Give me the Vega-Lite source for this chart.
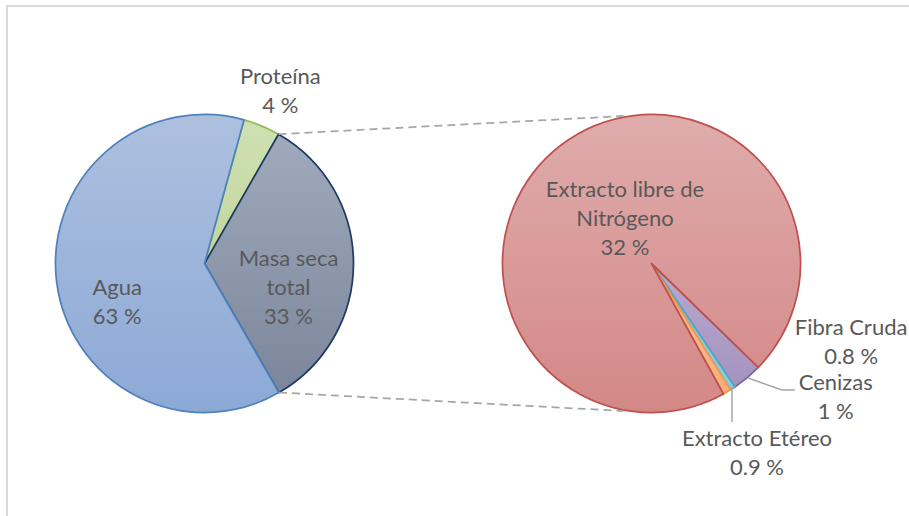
{
  "$schema": "https://vega.github.io/schema/vega-lite/v6.json",
  "width": 910,
  "height": 520,
  "autosize": {"type": "none"},
  "padding": {"left": 7, "top": 6, "right": 0, "bottom": 0},
  "background": "white",
  "config": {
    "view": {"stroke": "#d9d9d9", "strokeWidth": 2},
    "axis": {"disable": true},
    "text": {"font": "Lato", "fontSize": 22, "lineHeight": 29, "fill": "#595959", "align": "center", "baseline": "middle", "lineBreak": "\n"}
  },
  "datasets": {
    "principal": [
      {"categoria": "Proteína", "valor": 4.0, "etiqueta": "Proteína\n4 %", "orden": 1},
      {"categoria": "Masa seca total", "valor": 33.4, "etiqueta": "Masa seca\ntotal\n33 %", "orden": 2},
      {"categoria": "Agua", "valor": 62.6, "etiqueta": "Agua\n63 %", "orden": 3}
    ],
    "secundario": [
      {"categoria": "Fibra Cruda", "valor": 1.09, "etiqueta": "Fibra Cruda\n0.8 %", "orden": 1},
      {"categoria": "Cenizas", "valor": 0.19, "etiqueta": "Cenizas\n1 %", "orden": 2},
      {"categoria": "Extracto Etéreo", "valor": 0.29, "etiqueta": "Extracto Etéreo\n0.9 %", "orden": 3},
      {"categoria": "Extracto libre de Nitrógeno", "valor": 31.83, "etiqueta": "Extracto libre de\nNitrógeno\n32 %", "orden": 4}
    ]
  },
  "layer": [
    {
      "data": {"name": "principal"},
      "encoding": {
        "x": {"datum": 0, "type": "quantitative", "scale": {"domain": [-1.3255, 4.78188], "nice": false, "zero": false}, "axis": null},
        "y": {"datum": 0, "type": "quantitative", "scale": {"domain": [-1.76174, 1.72819], "nice": false, "zero": false}, "axis": null},
        "theta": {"field": "valor", "type": "quantitative", "stack": true, "scale": {"range": [0.26878, 6.55197]}},
        "order": {"field": "orden", "type": "quantitative"},
        "detail": {"field": "categoria", "type": "nominal"}
      },
      "layer": [
        {
          "mark": {"type": "arc", "radius": 149, "strokeWidth": 1.75, "strokeJoin": "round"},
          "encoding": {
            "fill": {
              "condition": [
                {"test": "datum.categoria === 'Agua'", "value": {"gradient": "linear", "x1": 0, "y1": 0, "x2": 0, "y2": 1, "stops": [{"offset": 0, "color": "#adc0df"}, {"offset": 1, "color": "#8ca9d6"}]}},
                {"test": "datum.categoria === 'Proteína'", "value": {"gradient": "linear", "x1": 0, "y1": 0, "x2": 0, "y2": 1, "stops": [{"offset": 0, "color": "#cfe0b3"}, {"offset": 1, "color": "#c3d69c"}]}}
              ],
              "value": {"gradient": "linear", "x1": 0, "y1": 0, "x2": 0, "y2": 1, "stops": [{"offset": 0, "color": "#a0aabc"}, {"offset": 1, "color": "#7b869c"}]}
            },
            "stroke": {
              "field": "categoria", "type": "nominal", "legend": null,
              "scale": {
                "domain": ["Agua", "Proteína", "Masa seca total", "Extracto libre de Nitrógeno", "Fibra Cruda", "Cenizas", "Extracto Etéreo"],
                "range": ["#4f81bd", "#9bbb59", "#1f3b63", "#c0504d", "#8064a2", "#4bacc6", "#f79646"]
              }
            }
          }
        },
        {
          "mark": {"type": "text", "radius": 187, "dx": 4, "dy": -14},
          "encoding": {"text": {"condition": {"test": "datum.categoria === 'Proteína'", "field": "etiqueta"}, "value": ""}}
        },
        {
          "mark": {"type": "text", "radius": 84, "dx": 0, "dy": -4},
          "encoding": {"text": {"condition": {"test": "datum.categoria === 'Masa seca total'", "field": "etiqueta"}, "value": ""}}
        },
        {
          "mark": {"type": "text", "radius": 88, "dx": 0, "dy": 13},
          "encoding": {"text": {"condition": {"test": "datum.categoria === 'Agua'", "field": "etiqueta"}, "value": ""}}
        }
      ]
    },
    {
      "data": {"name": "secundario"},
      "encoding": {
        "x": {"datum": 3, "type": "quantitative", "scale": {"domain": [-1.3255, 4.78188], "nice": false, "zero": false}, "axis": null},
        "y": {"datum": 0, "type": "quantitative", "scale": {"domain": [-1.76174, 1.72819], "nice": false, "zero": false}, "axis": null},
        "theta": {"field": "valor", "type": "quantitative", "stack": true, "scale": {"range": [2.34224, 8.62543]}},
        "order": {"field": "orden", "type": "quantitative"},
        "detail": {"field": "categoria", "type": "nominal"}
      },
      "layer": [
        {
          "mark": {"type": "arc", "radius": 149, "strokeWidth": 1.75, "strokeJoin": "round"},
          "encoding": {
            "fill": {
              "condition": [
                {"test": "datum.categoria === 'Fibra Cruda'", "value": {"gradient": "linear", "x1": 0, "y1": 0, "x2": 0, "y2": 1, "stops": [{"offset": 0, "color": "#b8aacf"}, {"offset": 1, "color": "#a593bf"}]}},
                {"test": "datum.categoria === 'Cenizas'", "value": {"gradient": "linear", "x1": 0, "y1": 0, "x2": 0, "y2": 1, "stops": [{"offset": 0, "color": "#a2d6e4"}, {"offset": 1, "color": "#88c9da"}]}},
                {"test": "datum.categoria === 'Extracto Etéreo'", "value": {"gradient": "linear", "x1": 0, "y1": 0, "x2": 0, "y2": 1, "stops": [{"offset": 0, "color": "#fcc49c"}, {"offset": 1, "color": "#f9ae7a"}]}}
              ],
              "value": {"gradient": "linear", "x1": 0, "y1": 0, "x2": 0, "y2": 1, "stops": [{"offset": 0, "color": "#dfacac"}, {"offset": 1, "color": "#d38886"}]}
            },
            "stroke": {
              "field": "categoria", "type": "nominal", "legend": null,
              "scale": {
                "domain": ["Agua", "Proteína", "Masa seca total", "Extracto libre de Nitrógeno", "Fibra Cruda", "Cenizas", "Extracto Etéreo"],
                "range": ["#4f81bd", "#9bbb59", "#1f3b63", "#c0504d", "#8064a2", "#4bacc6", "#f79646"]
              }
            }
          }
        },
        {
          "mark": {"type": "text", "radius": 52, "dx": 5, "dy": -32},
          "encoding": {"text": {"condition": {"test": "datum.categoria === 'Extracto libre de Nitrógeno'", "field": "etiqueta"}, "value": ""}}
        },
        {
          "mark": {"type": "text", "radius": 149, "dx": 104, "dy": -50},
          "encoding": {"text": {"condition": {"test": "datum.categoria === 'Fibra Cruda'", "field": "etiqueta"}, "value": ""}}
        },
        {
          "mark": {"type": "text", "radius": 149, "dx": 103, "dy": -5},
          "encoding": {"text": {"condition": {"test": "datum.categoria === 'Cenizas'", "field": "etiqueta"}, "value": ""}}
        },
        {
          "mark": {"type": "text", "radius": 149, "dx": 30, "dy": 47},
          "encoding": {"text": {"condition": {"test": "datum.categoria === 'Extracto Etéreo'", "field": "etiqueta"}, "value": ""}}
        }
      ]
    },
    {
      "data": {"values": [{"tramo": "conector"}]},
      "layer": [
        {
          "mark": {"type": "rule", "stroke": "#a6a6a6", "strokeWidth": 1.75, "strokeDash": [8, 5]},
          "encoding": {
            "x": {"datum": 0.497, "type": "quantitative", "scale": {"domain": [-1.3255, 4.78188], "nice": false, "zero": false}, "axis": null},
            "y": {"datum": 0.8678, "type": "quantitative", "scale": {"domain": [-1.76174, 1.72819], "nice": false, "zero": false}, "axis": null},
            "x2": {"datum": 2.812},
            "y2": {"datum": 0.99}
          }
        },
        {
          "mark": {"type": "rule", "stroke": "#a6a6a6", "strokeWidth": 1.75, "strokeDash": [8, 5]},
          "encoding": {
            "x": {"datum": 0.5, "type": "quantitative"},
            "y": {"datum": -0.866, "type": "quantitative"},
            "x2": {"datum": 2.812},
            "y2": {"datum": -0.99}
          }
        },
        {
          "mark": {"type": "rule", "stroke": "#a6a6a6", "strokeWidth": 1.5},
          "encoding": {
            "x": {"datum": 3.6477, "type": "quantitative"},
            "y": {"datum": -0.7685, "type": "quantitative"},
            "x2": {"datum": 3.8758},
            "y2": {"datum": -0.849}
          }
        },
        {
          "mark": {"type": "rule", "stroke": "#a6a6a6", "strokeWidth": 1.5},
          "encoding": {
            "x": {"datum": 3.8758, "type": "quantitative"},
            "y": {"datum": -0.849, "type": "quantitative"},
            "x2": {"datum": 3.9631},
            "y2": {"datum": -0.849}
          }
        },
        {
          "mark": {"type": "rule", "stroke": "#a6a6a6", "strokeWidth": 1.5},
          "encoding": {
            "x": {"datum": 3.5403, "type": "quantitative"},
            "y": {"datum": -0.8356, "type": "quantitative"},
            "x2": {"datum": 3.5403},
            "y2": {"datum": -1.0638}
          }
        }
      ]
    }
  ],
  "resolve": {"scale": {"theta": "independent"}}
}
